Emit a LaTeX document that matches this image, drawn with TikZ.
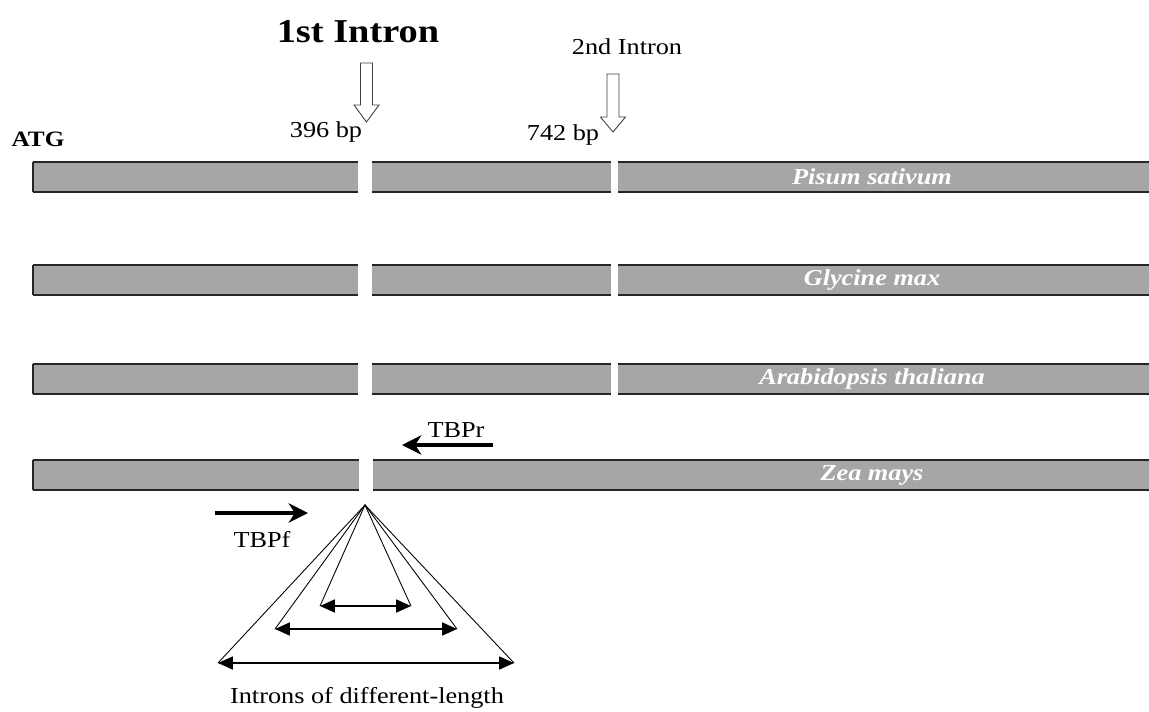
\documentclass[tikz,border=0pt]{standalone}
\usepackage{fontspec}
\setmainfont{Liberation Serif}
\usetikzlibrary{arrows.meta}
\definecolor{bargray}{RGB}{166, 166, 166}

\tikzset{
  edge/.style={line width=0.8pt, black!85},
  hollow/.style={draw=black!75, fill=white, line width=0.5pt},
  txt/.style={xscale=1.15, font=\fontsize{13}{15}\selectfont},
  species/.style={txt, text=white, font=\fontsize{13}{15}\selectfont\bfseries\itshape},
  primer/.style={line width=2.2pt, -{Stealth[length=11pt, width=11pt, inset=3.5pt]}},
  span/.style={line width=0.6pt, {Triangle[length=8.5pt, width=7.5pt]}-{Triangle[length=8.5pt, width=7.5pt]}},
  side/.style={line width=0.5pt},
}

% one exon: fill, top and bottom line
\newcommand{\exonseg}[3]{%
  \fill[bargray] (#2,#1-15) rectangle (#3,#1+15);
  \draw[edge] (#2,#1-15) -- (#3,#1-15) (#2,#1+15) -- (#3,#1+15);
}
% open arrow: x, top, start of head, tip
\newcommand{\hollowarrow}[4]{%
  \draw[hollow] (#1-6,#2) -- (#1+6,#2) -- (#1+6,#3) -- (#1+12.5,#3) -- (#1,#4)
    -- (#1-12.5,#3) -- (#1-6,#3) -- cycle;
}

\begin{document}
\begin{tikzpicture}[x=0.02cm, y=-0.02cm]
      \useasboundingbox (0,0) rectangle (1149,711);
      \def\L{33}
      \def\R{1149}
      \foreach \y/\gene [count=\i from 1] in {177/Pisum sativum, 280/Glycine max, 379/Arabidopsis thaliana} {
        \exonseg{\y}{\L}{358}
        \exonseg{\y}{372}{611}
        \exonseg{\y}{618}{\R}
        \draw[edge] (\L,\y-15) -- (\L,\y+15);
        \node[species] (sp\i) at (872,\y) {\gene};
      }
      \exonseg{475}{\L}{359}
      \exonseg{475}{373}{\R}
      \draw[edge] (\L,460) -- (\L,490);
      \node[species] (sp4) at (872,475) {Zea mays};
      \node[txt, font=\fontsize{12.5}{15}\selectfont\bfseries] (atg) at (38,139) {ATG};
      \node[txt, font=\fontsize{19}{22}\selectfont\bfseries] (first) at (358,32) {1st Intron};
      \node[txt] (second) at (627,47) {2nd Intron};
      \node[txt] (bp1) at (326,132) {396 bp};
      \node[txt] (bp2) at (563,135) {742 bp};
      \hollowarrow{366.5}{63}{105}{122}
      \hollowarrow{613}{74}{117}{132}
      % primers
      \node[txt] (tbpr) at (456,430) {TBPr};
      \node[txt] (tbpf) at (262,539) {TBPf};
      \coordinate (r1) at (493,445);
      \coordinate (r2) at (402,445);
      \coordinate (f1) at (215,513);
      \coordinate (f2) at (308,513);
      \draw[primer] (r1) -- (r2);
      \draw[primer] (f1) -- (f2);
      % introns of several lengths
      \coordinate (apex) at (365,505);
      \foreach \xl/\xr/\y [count=\i from 1] in {320/411/606, 275/457/629, 218/514/663} {
        \coordinate (l\i) at (\xl,\y);
        \coordinate (r\i) at (\xr,\y);
        \draw[side] (l\i) -- (apex) -- (r\i);
        \draw[span] (l\i) -- (r\i);
      }
      \node[txt] (caption) at (367,698) {Introns of different-length};
    \end{tikzpicture}
\end{document}
